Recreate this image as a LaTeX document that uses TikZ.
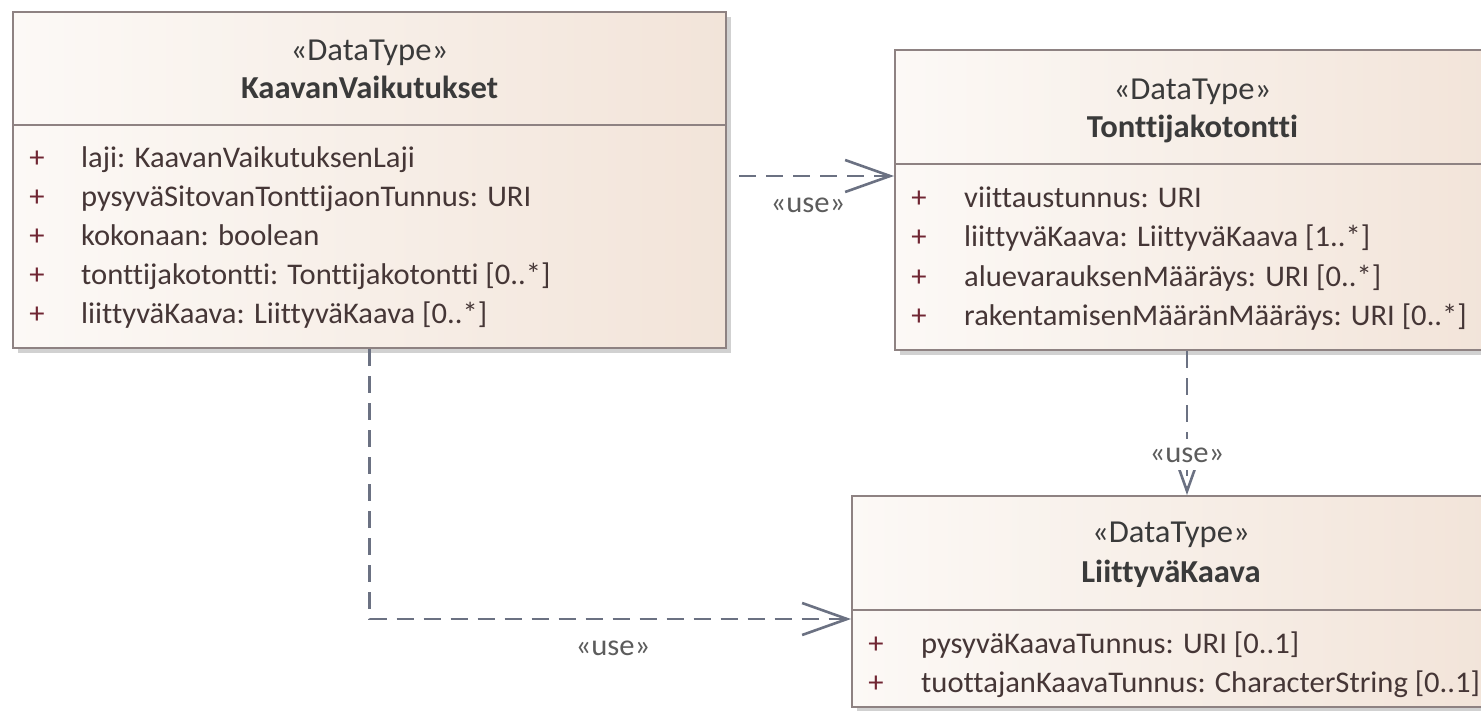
\documentclass[tikz,border=0pt]{standalone}
\usepackage{fontspec}
\setmainfont{Carlito}[FakeStretch=1.02, Ligatures={NoCommon}]
\usetikzlibrary{arrows.meta,shadows}
\definecolor{boxborder}{HTML}{8E8282}
\definecolor{fillL}{HTML}{FCF9F6}
\definecolor{fillR}{HTML}{F2E4D9}
\definecolor{titletext}{HTML}{3A3A3A}
\definecolor{attrtext}{HTML}{453636}
\definecolor{plusred}{HTML}{702633}
\definecolor{conn}{HTML}{6B7182}
\definecolor{labeltext}{HTML}{5C5C5C}
\newcommand\umlfont{\fontsize{30}{36}\selectfont}
\newcommand\umlhead{\fontsize{32}{38}\selectfont}
\tikzset{
  classbox/.style={draw=boxborder, line width=2pt, left color=fillL, right color=fillR,
    inner sep=0pt, drop shadow={shadow xshift=5pt, shadow yshift=-5pt, fill=black!18, opacity=1}},
  stereo/.style={anchor=base, font=\umlhead, text=titletext, inner sep=0pt},
  cname/.style={anchor=base, font=\umlhead\bfseries, text=titletext, inner sep=0pt},
  attr/.style={anchor=base west, font=\umlfont, text=attrtext, inner sep=0pt},
  vis/.style={anchor=base, font=\umlfont, text=plusred, inner sep=0pt},
  sepline/.style={draw=boxborder, line width=2pt},
  usedep/.style={draw=conn, line width=2.6pt, dash pattern=on 17pt off 10pt,
    -{Straight Barb[length=45pt,width=32pt]}},
  uselabel/.style={anchor=base, font=\umlfont, text=labeltext, inner sep=0pt}
}
\begin{document}
\begin{tikzpicture}[x=1pt,y=-1pt]
\useasboundingbox (0,0) rectangle (1481,710);
\fill[white] (0,0) rectangle (1481,710);
\clip (0,0) rectangle (1481,710);
% boxes
\node[classbox, minimum width=713pt, minimum height=336pt] (k1) at (369.5,180) {};
\node[classbox, minimum width=595pt, minimum height=300pt] (k2) at (1192.5,200) {};
\node[classbox, minimum width=638pt, minimum height=211pt] (k3) at (1171,601.5) {};
\draw[sepline] (k1.west |- 0,125) -- (k1.east |- 0,125);
\draw[sepline] (k2.west |- 0,164) -- (k2.east |- 0,164);
\draw[sepline] (k3.west |- 0,610) -- (k3.east |- 0,610);
% box 1 texts
\node[stereo] (k1s) at (369.5,60) {«DataType»};
\node[cname] (k1n) at (369.5,98) {KaavanVaikutukset};
\foreach \i/\t in {0/{laji: KaavanVaikutuksenLaji},1/{pysyväSitovanTonttijaonTunnus: URI},2/{kokonaan: boolean},3/{tonttijakotontti: Tonttijakotontti [0..*]},4/{liittyväKaava: LiittyväKaava [0..*]}}{
  \node[vis] (k1p\i) at (37,167+39*\i) {+};
  \node[attr] (k1a\i) at (81,167+39*\i) {\t};
}
% box 2 texts
\node[stereo] (k2s) at (1192.5,99) {«DataType»};
\node[cname] (k2n) at (1192.5,137) {Tonttijakotontti};
\foreach \i/\t in {0/{viittaustunnus: URI},1/{liittyväKaava: LiittyväKaava [1..*]},2/{aluevarauksenMääräys: URI [0..*]},3/{rakentamisenMääränMääräys: URI [0..*]}}{
  \node[vis] (k2p\i) at (919,207+39.5*\i) {+};
  \node[attr] (k2a\i) at (964,207+39.5*\i) {\t};
}
% box 3 texts
\node[stereo] (k3s) at (1171,542) {«DataType»};
\node[cname] (k3n) at (1171,582) {LiittyväKaava};
\foreach \i/\t in {0/{pysyväKaavaTunnus: URI [0..1]},1/{tuottajanKaavaTunnus: CharacterString [0..1]}}{
  \node[vis] (k3p\i) at (876,653+39*\i) {+};
  \node[attr] (k3a\i) at (921,653+39*\i) {\t};
}
% connectors
\draw[usedep, shorten <=12pt] (k1.east |- 0,176) -- (k2.west |- 0,176);
\draw[usedep] (k2.south -| 1187,0) -- (k3.north -| 1187,0);
\draw[usedep] (k1.south) |- (k3.west |- 0,619);
% labels
\node[uselabel] (l1) at (808,212) {«use»};
\node[uselabel, fill=white, inner xsep=3pt, inner ysep=8pt] (l2) at (1187,462) {«use»};
\node[uselabel] (l3) at (613,655) {«use»};
\end{tikzpicture}
\end{document}
